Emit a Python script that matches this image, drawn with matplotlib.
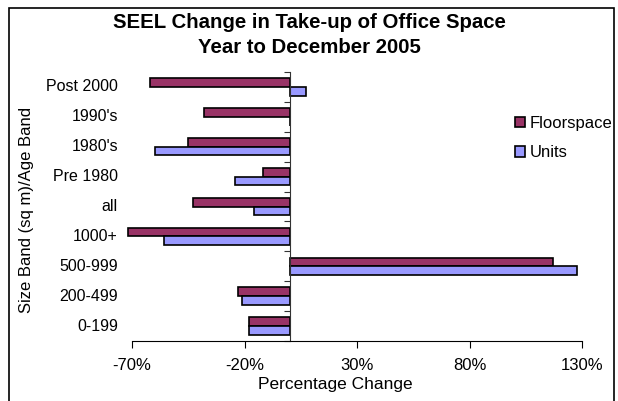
import matplotlib.pyplot as plt
import matplotlib.transforms as mtransforms
from matplotlib.patches import Rectangle
import numpy as np

plt.rcParams['font.family'] = ['Liberation Sans', 'DejaVu Sans']

# bands from bottom to top
bands = ['0-199', '200-499', '500-999', '1000+', 'all', 'Pre 1980', "1980's", "1990's", 'Post 2000']
floorspace = [-18.2, -23.1, 117.3, -72.0, -42.7, -11.6, -45.3, -38.2, -62.2]
units = [-17.8, -20.9, 127.6, -56.0, -16.0, -24.4, -59.6, 0.0, 7.5]
xticks = [-70, -20, 30, 80, 130]

fig = plt.figure(figsize=(6.18, 4.01), dpi=100)
ax = fig.add_axes([132 / 618, 1 - 341 / 401, 450 / 618, 269 / 401])

y = np.arange(len(bands))
h = 0.29
ax.barh(y + h / 2, floorspace, h, color='#993366', edgecolor='black', linewidth=1.2,
        label='Floorspace', clip_on=False)
ax.barh(y - h / 2, units, h, color='#9999FF', edgecolor='black', linewidth=1.2,
        label='Units', clip_on=False)

ax.set_xlim(-70, 130)
ax.set_ylim(-0.5, len(bands) - 0.5)

# vertical axis sits on zero
ax.spines['left'].set_position(('data', 0))
ax.spines['left'].set_color('#333333')
ax.spines['top'].set_visible(False)
ax.spines['right'].set_visible(False)
ax.set_yticks(np.arange(-0.5, len(bands), 1.0))
ax.set_yticklabels([])
ax.tick_params(axis='y', length=4, color='#333333')

ax.set_xticks(xticks)
ax.set_xticklabels([f'{v}%' for v in xticks], fontsize=12)
ax.tick_params(axis='x', length=5, pad=7)

trans = mtransforms.blended_transform_factory(fig.transFigure, ax.transData)
for i, b in enumerate(bands):
    ax.text(118 / 618, i, b, transform=trans, ha='right', va='center', fontsize=11.5)

fig.text(335 / 618, 1 - 385 / 401, 'Percentage Change', ha='center', va='center', fontsize=12.5)
fig.text(27 / 618, 1 - 210 / 401, 'Size Band (sq m)/Age Band', ha='center', va='center',
         rotation=90, fontsize=12)
fig.text(309 / 618, 1 - 35 / 401, 'SEEL Change in Take-up of Office Space\nYear to December 2005',
         ha='center', va='center', fontsize=14.7, fontweight='bold', linespacing=1.45)

fig.legend(loc='center left', bbox_to_anchor=(500 / 618, 1 - 138 / 401), frameon=False,
           fontsize=12, handlelength=0.6, handleheight=0.6, handletextpad=0.3,
           labelspacing=0.85)

fig.patches.append(Rectangle((9 / 618, -0.05), 605 / 618, 1.05 - 8 / 401, transform=fig.transFigure,
                             fill=False, edgecolor='black', linewidth=1.2))

plt.savefig('out.png', dpi=100)
